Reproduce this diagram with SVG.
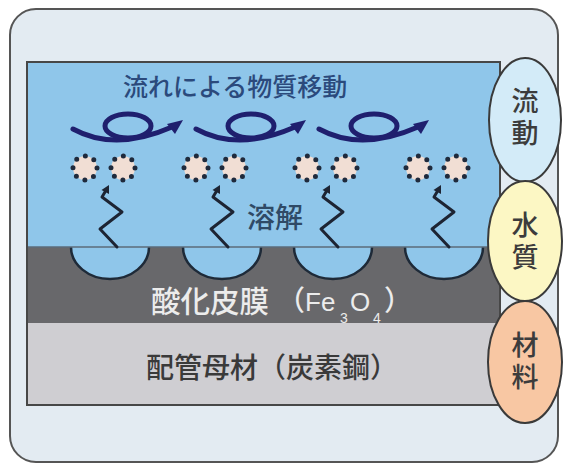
<svg xmlns="http://www.w3.org/2000/svg" xmlns:xlink="http://www.w3.org/1999/xlink" width="567" height="465" viewBox="0 0 567 465">
  <style>
    .jp { font-family: "Noto Sans CJK JP", "Noto Sans", sans-serif; font-weight: 500; }
    .lat { font-family: "Liberation Sans", Arial, sans-serif; }
    .vortex { fill: none; stroke: #1f1f6e; stroke-width: 5; stroke-linecap: round; }
    .vhead { fill: #1f1f6e; }
    .zig { fill: none; stroke: #1d2433; stroke-width: 3; stroke-linejoin: round; stroke-linecap: round; }
    .zhead { fill: #1d2433; }
    .ion { fill: #f1ded4; stroke: #1f2a3c; stroke-width: 5; stroke-linecap: round; stroke-dasharray: 0 9.425; }
    .pit { fill: #8fc6ea; stroke: #1e2a38; stroke-width: 2.5; }
    .factor { stroke: #3a3a3a; stroke-width: 2; }
    .ftext { font-size: 27px; fill: #3c3c3c; text-anchor: middle; writing-mode: vertical-rl; letter-spacing: 5px; }
  </style>
  <defs>
    <!-- swirl: curved sweep with a loop and an arrowhead -->
    <g id="swirl">
      <path class="vortex" d="M73,129 Q115,152 172,127"/>
      <ellipse class="vortex" cx="128" cy="126" rx="23" ry="12"/>
      <path class="vhead" d="M183,120 L167,124 L175,134 Z"/>
    </g>
    <!-- dissolution path: zigzag rising to an arrowhead -->
    <g id="zigzag">
      <path class="zig" d="M11,247 L-6,229 L16,212 L-4,197 L-1,192"/>
      <path class="zhead" d="M3,185 L3,194 L-4.5,190 Z"/>
    </g>
    <!-- pair of dissolved ions -->
    <g id="ions">
      <circle class="ion" cx="0" cy="168" r="12"/>
      <circle class="ion" cx="38" cy="168" r="12"/>
    </g>
  </defs>

  <rect width="567" height="465" fill="#ffffff"/>

  <!-- outer panel -->
  <g id="panel">
    <rect x="10" y="9" width="548" height="453" rx="26" ry="26" fill="#e3ebf2" stroke="#555" stroke-width="2"/>
  </g>

  <!-- water layer -->
  <g id="water">
    <rect x="27" y="62" width="473" height="185" fill="#8fc6ea"/>
    <text class="jp" x="123" y="96" font-size="25" fill="#2b4a7c">流れによる物質移動</text>
  </g>

  <!-- oxide film layer -->
  <g id="oxide">
    <rect x="27" y="247" width="473" height="76" fill="#68686b"/>
    <path class="pit" d="M71,247 A39,32 0 0 0 149,247"/>
    <path class="pit" d="M183,247 A39,32 0 0 0 261,247"/>
    <path class="pit" d="M294,247 A39,32 0 0 0 372,247"/>
    <path class="pit" d="M405,247 A39,32 0 0 0 483,247"/>
    <text fill="#ececec">
      <tspan class="jp" x="151" y="312" font-size="29.5">酸化皮膜</tspan><tspan class="jp" x="277" y="311" font-size="28">（</tspan><tspan class="lat" x="305" y="311" font-size="26">Fe</tspan><tspan class="lat" x="340" y="323" font-size="14">3</tspan><tspan class="lat" x="350" y="311" font-size="26">O</tspan><tspan class="lat" x="373" y="323" font-size="14">4</tspan><tspan class="jp" x="384" y="311" font-size="28">）</tspan>
    </text>
  </g>

  <!-- base metal layer -->
  <g id="base-metal">
    <rect x="27" y="323" width="473" height="82" fill="#cfced2"/>
    <text class="jp" x="146" y="378" font-size="28" fill="#3a3a3a">配管母材（炭素鋼）</text>
  </g>

  <!-- layer outlines -->
  <g id="outlines" fill="none">
    <line x1="27" y1="247" x2="500" y2="247" stroke="#5b6b7a" stroke-width="1.5"/>
    <rect x="27" y="62" width="473" height="343" stroke="#474747" stroke-width="2"/>
  </g>

  <!-- flow swirls -->
  <g id="swirls">
    <use xlink:href="#swirl" x="0"/>
    <use xlink:href="#swirl" x="123"/>
    <use xlink:href="#swirl" x="246"/>
  </g>

  <!-- ions -->
  <g id="ion-pairs">
    <use xlink:href="#ions" x="85"/>
    <use xlink:href="#ions" x="196"/>
    <use xlink:href="#ions" x="307"/>
    <use xlink:href="#ions" x="418"/>
  </g>

  <!-- dissolution -->
  <g id="dissolution">
    <use xlink:href="#zigzag" x="106"/>
    <use xlink:href="#zigzag" x="217"/>
    <use xlink:href="#zigzag" x="327"/>
    <use xlink:href="#zigzag" x="438"/>
    <text class="jp" x="247" y="228" font-size="28" fill="#2f4a66">溶解</text>
  </g>

  <!-- factor ellipses, labels set vertically -->
  <g id="factor-flow">
    <ellipse class="factor" cx="525" cy="120" rx="36" ry="62" fill="#d3ebf8"/>
    <text class="jp ftext" x="525" y="119.5">流動</text>
  </g>
  <g id="factor-water">
    <ellipse class="factor" cx="525" cy="241" rx="37" ry="60" fill="#fcf7c4"/>
    <text class="jp ftext" x="525" y="243.5">水質</text>
  </g>
  <g id="factor-material">
    <ellipse class="factor" cx="525" cy="362" rx="37" ry="61" fill="#f8c7a3"/>
    <text class="jp ftext" x="525" y="363.5">材料</text>
  </g>
</svg>
